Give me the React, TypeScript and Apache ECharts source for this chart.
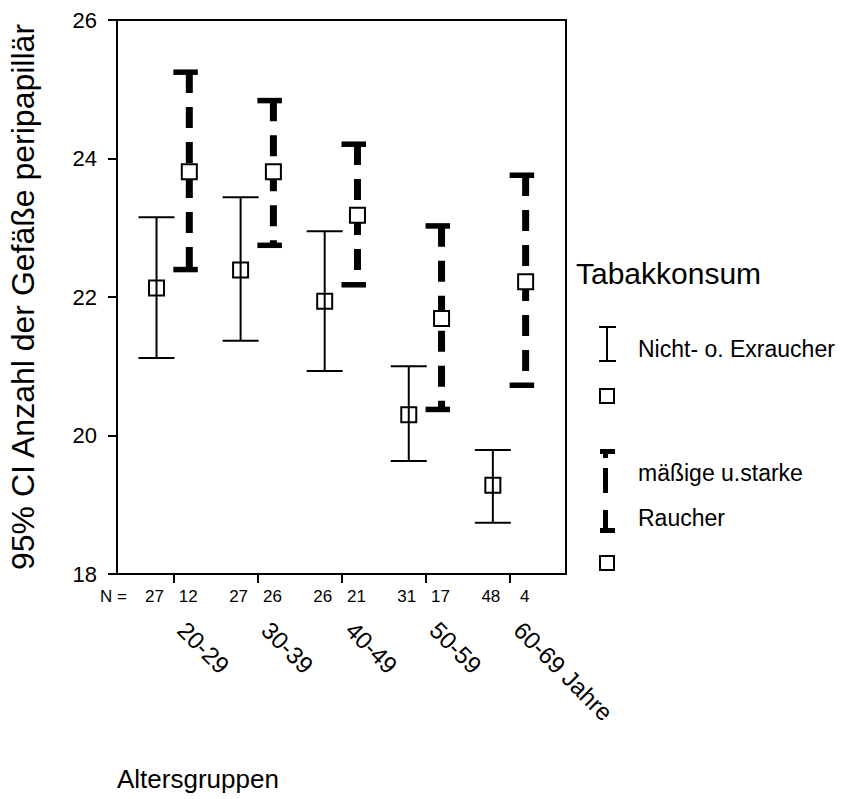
import React, { useEffect, useRef } from 'react';
import * as echarts from 'echarts';

const ageGroups = ['20-29', '30-39', '40-49', '50-59', '60-69 Jahre'];
const nonMean = [22.13, 22.39, 21.94, 20.3, 19.28];
const nonLow = [21.12, 21.37, 20.93, 19.63, 18.74];
const nonHigh = [23.15, 23.44, 22.95, 21.0, 19.79];
const smkMean = [23.81, 23.81, 23.18, 21.69, 22.22];
const smkLow = [22.4, 22.75, 22.18, 20.38, 20.73];
const smkHigh = [25.25, 24.84, 24.21, 23.03, 23.76];
const nNon = [27, 27, 26, 31, 48];
const nSmk = [12, 26, 21, 17, 4];
const groupPos = [1, 2, 3, 4, 5];

const FONT = '"Liberation Sans", Arial, Helvetica, sans-serif';
const BLACK = '#000';

function renderNon(params: any, api: any) {
  const x = api.value(0);
  const top = api.coord([x, api.value(2)]);
  const bot = api.coord([x, api.value(1)]);
  const mid = api.coord([x, api.value(3)]);
  const n = api.value(4);
  const cs = params.coordSys;
  const baseY = cs.y + cs.height;
  const cx = top[0];
  const ls = { stroke: BLACK, lineWidth: 2 };
  return {
    type: 'group',
    children: [
      { type: 'line', shape: { x1: cx, y1: top[1], x2: cx, y2: bot[1] }, style: ls },
      { type: 'line', shape: { x1: cx - 18, y1: top[1], x2: cx + 18, y2: top[1] }, style: ls },
      { type: 'line', shape: { x1: cx - 18, y1: bot[1], x2: cx + 18, y2: bot[1] }, style: ls },
      {
        type: 'rect',
        shape: { x: cx - 7.5, y: mid[1] - 7.5, width: 15, height: 15 },
        style: { fill: 'none', stroke: BLACK, lineWidth: 2 },
      },
      {
        type: 'text',
        style: {
          text: String(n), x: cx - 2, y: baseY + 22, align: 'center', verticalAlign: 'middle',
          fontSize: 17, fontFamily: FONT, fill: BLACK,
        },
      },
    ],
  };
}

function renderSmk(params: any, api: any) {
  const x = api.value(0);
  const top = api.coord([x, api.value(2)]);
  const bot = api.coord([x, api.value(1)]);
  const mid = api.coord([x, api.value(3)]);
  const n = api.value(4);
  const cs = params.coordSys;
  const baseY = cs.y + cs.height;
  const cx = top[0];
  return {
    type: 'group',
    children: [
      {
        type: 'line',
        shape: { x1: cx, y1: top[1], x2: cx, y2: bot[1] },
        style: { stroke: BLACK, lineWidth: 7, lineDash: [21, 14], lineCap: 'butt' },
      },
      { type: 'rect', shape: { x: cx - 16, y: top[1] - 2.5, width: 24.5, height: 5.5 }, style: { fill: BLACK } },
      { type: 'rect', shape: { x: cx - 16, y: bot[1] - 2.5, width: 24.5, height: 5.5 }, style: { fill: BLACK } },
      {
        type: 'rect',
        shape: { x: cx - 7.5, y: mid[1] - 7.5, width: 15, height: 15 },
        style: { fill: '#fff', stroke: BLACK, lineWidth: 2 },
      },
      {
        type: 'text',
        style: {
          text: String(n), x: cx - 1, y: baseY + 22, align: 'center', verticalAlign: 'middle',
          fontSize: 17, fontFamily: FONT, fill: BLACK,
        },
      },
    ],
  };
}

export default function App() {
  const ref = useRef<HTMLDivElement>(null);
  useEffect(() => {
    if (!ref.current) return;
    const chart = echarts.init(ref.current, null, { renderer: 'svg' });
    const nonData = groupPos.map((g, i) => [g - 0.2, nonLow[i], nonHigh[i], nonMean[i], nNon[i]]);
    const smkData = groupPos.map((g, i) => [g + 0.19, smkLow[i], smkHigh[i], smkMean[i], nSmk[i]]);
    const txt = (text: string, x: number, y: number, size: number, extra: any = {}) => ({
      type: 'text',
      x,
      y,
      style: { text, fontSize: size, fontFamily: FONT, fill: BLACK, verticalAlign: 'middle', ...extra },
    });
    chart.setOption({
      animation: false,
      backgroundColor: '#fff',
      textStyle: { fontFamily: FONT },
      grid: {
        left: 117, top: 20, width: 449, height: 554,
        show: true, borderColor: BLACK, borderWidth: 2, backgroundColor: 'transparent',
        outerBoundsMode: 'none',
      },
      xAxis: [
        {
          type: 'value', min: 0.33, max: 5.67,
          axisLine: { show: true, lineStyle: { color: BLACK, width: 2 } },
          axisTick: { show: true, customValues: groupPos, length: 9, lineStyle: { color: BLACK, width: 2 } },
          axisLabel: { show: false },
          splitLine: { show: false },
        },
        {
          type: 'value', min: 0.33, max: 5.67, position: 'bottom',
          axisLine: { show: false },
          axisTick: { show: false },
          splitLine: { show: false },
          axisLabel: {
            show: true,
            customValues: groupPos.map((g) => g + 0.1),
            formatter: (v: number) => ageGroups[Math.floor(v + 0.001) - 1] ?? '',
            rotate: -45,
            margin: 52,
            fontSize: 24,
            color: BLACK,
            fontFamily: FONT,
          },
        },
      ],
      yAxis: {
        type: 'value', min: 18, max: 26, interval: 2,
        name: '95% CI Anzahl der Gefäße peripapillär',
        nameLocation: 'middle',
        nameGap: 78,
        nameTextStyle: { fontSize: 32, color: BLACK, fontFamily: FONT },
        axisLine: { show: true, lineStyle: { color: BLACK, width: 2 } },
        axisTick: { show: true, length: 9, lineStyle: { color: BLACK, width: 2 } },
        axisLabel: { fontSize: 22, color: BLACK, margin: 20, fontFamily: FONT },
        splitLine: { show: false },
      },
      series: [
        { type: 'custom', name: 'Nicht- o. Exraucher', renderItem: renderNon, data: nonData, xAxisIndex: 0, yAxisIndex: 0, encode: { x: 0, y: [1, 2, 3] }, clip: false },
        { type: 'custom', name: 'mäßige u.starke Raucher', renderItem: renderSmk, data: smkData, xAxisIndex: 0, yAxisIndex: 0, encode: { x: 0, y: [1, 2, 3] }, clip: false },
      ],
      graphic: [
        txt('N =', 100, 596, 17),
        txt('Altersgruppen', 117, 779, 26),
        txt('Tabakkonsum', 576, 273, 30),
        // legend: non smoker
        { type: 'line', shape: { x1: 607, y1: 327, x2: 607, y2: 361 }, style: { stroke: BLACK, lineWidth: 2 } },
        { type: 'line', shape: { x1: 599, y1: 327, x2: 616, y2: 327 }, style: { stroke: BLACK, lineWidth: 2 } },
        { type: 'line', shape: { x1: 599, y1: 361, x2: 616, y2: 361 }, style: { stroke: BLACK, lineWidth: 2 } },
        { type: 'rect', shape: { x: 600, y: 389, width: 14, height: 14 }, style: { fill: '#fff', stroke: BLACK, lineWidth: 2 } },
        txt('Nicht- o. Exraucher', 638, 349, 23),
        // legend: smoker
        { type: 'rect', shape: { x: 600, y: 449, width: 15, height: 5 }, style: { fill: BLACK } },
        { type: 'rect', shape: { x: 603, y: 449, width: 5, height: 9 }, style: { fill: BLACK } },
        { type: 'rect', shape: { x: 603, y: 468, width: 5, height: 25 }, style: { fill: BLACK } },
        { type: 'rect', shape: { x: 603, y: 510, width: 5, height: 23 }, style: { fill: BLACK } },
        { type: 'rect', shape: { x: 600, y: 528, width: 15, height: 5 }, style: { fill: BLACK } },
        { type: 'rect', shape: { x: 600, y: 556, width: 14, height: 14 }, style: { fill: '#fff', stroke: BLACK, lineWidth: 2 } },
        txt('mäßige u.starke', 638, 473, 23),
        txt('Raucher', 638, 518, 23),
      ],
    });
    return () => chart.dispose();
  }, []);
  return <div ref={ref} style={{ position: 'fixed', left: 0, top: 0, width: 846, height: 799 }} />;
}
